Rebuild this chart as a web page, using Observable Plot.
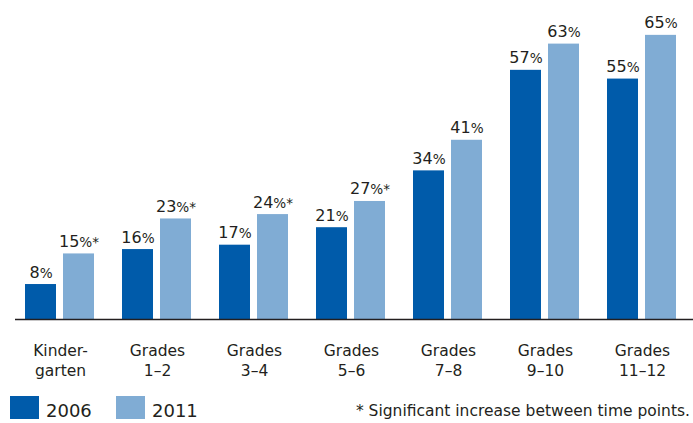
<!DOCTYPE html>
<html>
<head>
<meta charset="utf-8">
<script src="https://cdn.jsdelivr.net/npm/d3@7"></script>
<script src="https://cdn.jsdelivr.net/npm/@observablehq/plot@0.6"></script>
<style>
  html, body { margin: 0; padding: 0; background: #fff; overflow: hidden; }
  #chart { width: 693px; }
  .legend { position: relative; width: 693px; height: 38px; font-family: "DejaVu Sans", sans-serif; color: #231f20; }
  .legend .sw { position: absolute; top: 11px; width: 29px; height: 23px; }
  .legend .lab { position: absolute; top: 16px; font-size: 18px; line-height: 20px; }
  .legend .note { position: absolute; right: 3px; top: 17px; font-size: 15.5px; line-height: 18px; }
</style>
</head>
<body>
<div id="chart"></div>
<script>
const categories = ["Kindergarten", "Grades 1–2", "Grades 3–4", "Grades 5–6", "Grades 7–8", "Grades 9–10", "Grades 11–12"];
const tickLabels = ["Kinder-\ngarten", "Grades\n1–2", "Grades\n3–4", "Grades\n5–6", "Grades\n7–8", "Grades\n9–10", "Grades\n11–12"];
const years = ["2006", "2011"];
const values2006 = [8, 16, 17, 21, 34, 57, 55];
const values2011 = [15, 23, 24, 27, 41, 63, 65];
const significant2011 = [true, true, true, true, false, false, false];
const colors = ["#005BAA", "#80ACD4"];
const footnote = "* Significant increase between time points.";

const data = categories.flatMap((c, i) => [
  {group: c, year: years[0], value: values2006[i], label: values2006[i] + "%"},
  {group: c, year: years[1], value: values2011[i], label: values2011[i] + "%" + (significant2011[i] ? "*" : "")}
]);

const plot = Plot.plot({
  width: 693,
  height: 385,
  marginTop: 13,
  marginBottom: 66,
  marginLeft: 9,
  marginRight: 0,
  style: {fontFamily: "DejaVu Sans, sans-serif", fontSize: "15px", color: "#231f20", background: "#fff"},
  fx: {domain: categories, paddingInner: 0.274, paddingOuter: 0.137, axis: null},
  x: {domain: years, paddingInner: 0.18, paddingOuter: 0, axis: null},
  y: {domain: [0, 70], axis: null},
  color: {domain: years, range: colors},
  marks: [
    Plot.barY(data, {fx: "group", x: "year", y: "value", fill: "year"}),
    Plot.text(data, {fx: "group", x: "year", y: "value", text: "label", lineAnchor: "bottom", dy: -7, fontSize: 16, fill: "#231f20", className: "vlabel"}),
    Plot.ruleY([0], {stroke: "#231f20", strokeWidth: 1.5, insetLeft: -10, insetRight: -17}),
    Plot.axisFx({anchor: "bottom", tickSize: 0, tickPadding: 22, lineHeight: 1.3, fontSize: 15.5, label: null,
      tickFormat: d => tickLabels[categories.indexOf(d)]})
  ]
});
document.getElementById("chart").appendChild(plot);

// smaller % sign and asterisk, as in the original typesetting
d3.select(plot).selectAll(".vlabel text").each(function() {
  const t = this.textContent;
  const m = t.match(/^(\d+)(%)(\*?)$/);
  if (!m) return;
  const sel = d3.select(this);
  sel.text(null);
  sel.append("tspan").text(m[1]);
  sel.append("tspan").attr("font-size", "0.85em").text(m[2]);
  if (m[3]) sel.append("tspan").attr("font-size", "0.85em").text(m[3]);
});

const legend = document.createElement("div");
legend.className = "legend";
const swX = [10, 116];
years.forEach((y, i) => {
  const sw = document.createElement("div");
  sw.className = "sw";
  sw.style.left = swX[i] + "px";
  sw.style.background = colors[i];
  legend.appendChild(sw);
  const lab = document.createElement("div");
  lab.className = "lab";
  lab.style.left = (swX[i] + 36) + "px";
  lab.textContent = y;
  legend.appendChild(lab);
});
const note = document.createElement("div");
note.className = "note";
note.textContent = footnote;
legend.appendChild(note);
document.body.appendChild(legend);
</script>
</body>
</html>
